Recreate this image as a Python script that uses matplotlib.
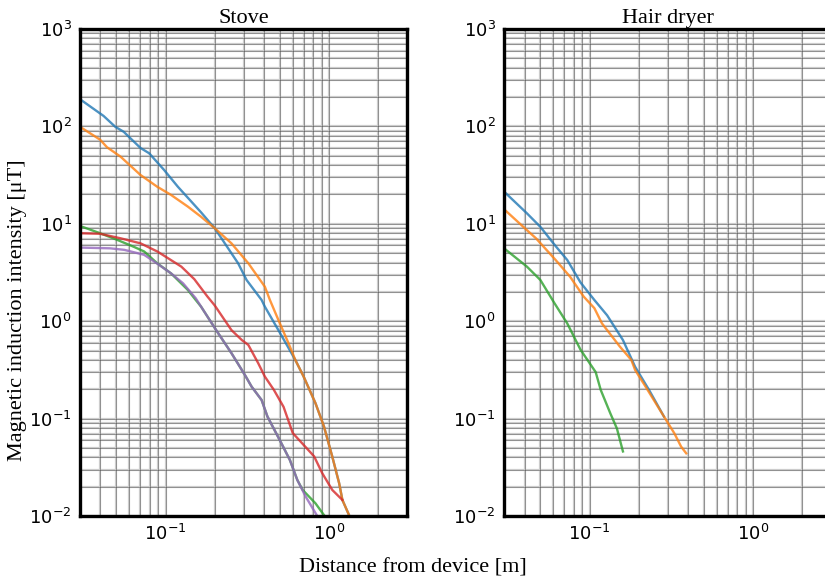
import numpy as np
import matplotlib
matplotlib.use('Agg')
import matplotlib.pyplot as plt
from matplotlib.ticker import LogLocator

# Stove curves (distance [m], field [uT])
stove_blue_x = [0.03, 0.0418, 0.0493, 0.0555, 0.0703, 0.0794, 0.098, 0.119, 0.165, 0.2, 0.278, 0.313,
                0.387, 0.405, 0.49, 0.622, 0.70, 0.826, 0.931, 1.047, 1.153, 1.207, 1.34]
stove_blue_y = [190, 128, 99, 88, 60, 53, 35.7, 24, 13.1, 9.0, 3.93, 2.65,
                1.65, 1.41, 0.81, 0.40, 0.269, 0.144, 0.083, 0.0406, 0.0217, 0.0146, 0.0098]

stove_orange_x = [0.03, 0.0398, 0.0439, 0.053, 0.0703, 0.089, 0.108, 0.137, 0.165, 0.2, 0.253, 0.321,
                  0.405, 0.435, 0.49, 0.566, 0.622, 0.70, 0.826, 0.931, 1.047, 1.153, 1.207, 1.34]
stove_orange_y = [99, 73, 61, 49, 31.7, 24, 19.8, 15, 11.8, 9.0, 6.3, 3.93,
                  2.26, 1.65, 1.03, 0.59, 0.40, 0.269, 0.144, 0.083, 0.0406, 0.0217, 0.0146, 0.0098]

stove_green_x = [0.03, 0.0398, 0.05, 0.064, 0.074, 0.089, 0.108, 0.137, 0.153, 0.165, 0.204, 0.253,
                 0.306, 0.336, 0.387, 0.42, 0.5, 0.576, 0.64, 0.69, 0.826, 0.94]
stove_green_y = [9.5, 8.0, 6.9, 5.8, 5.2, 3.93, 3.1, 2.09, 1.65, 1.41, 0.81, 0.47,
                 0.28, 0.213, 0.155, 0.105, 0.060, 0.0376, 0.0234, 0.0185, 0.0135, 0.0100]

stove_red_x = [0.03, 0.0398, 0.053, 0.0703, 0.089, 0.1, 0.125, 0.15, 0.18, 0.2, 0.253, 0.293, 0.321,
               0.369, 0.405, 0.46, 0.527, 0.60, 0.81, 0.91, 1.047, 1.207]
stove_red_y = [8.0, 7.9, 7.1, 6.3, 5.2, 4.6, 3.63, 2.7, 1.8, 1.45, 0.81, 0.64, 0.57,
               0.37, 0.27, 0.197, 0.132, 0.071, 0.041, 0.0274, 0.0185, 0.0146]

stove_purple_x = [0.03, 0.0459, 0.056, 0.074, 0.089, 0.108, 0.128, 0.153, 0.165, 0.204, 0.253,
                  0.306, 0.336, 0.387, 0.42, 0.5, 0.576, 0.64, 0.72, 0.847]
stove_purple_y = [5.7, 5.6, 5.4, 4.8, 3.9, 3.1, 2.45, 1.72, 1.41, 0.81, 0.47,
                  0.28, 0.213, 0.155, 0.105, 0.060, 0.0376, 0.0234, 0.0158, 0.0100]

# Hair dryer curves
dryer_blue_x = [0.03, 0.0414, 0.05, 0.062, 0.073, 0.088, 0.107, 0.128, 0.16, 0.19, 0.231, 0.285]
dryer_blue_y = [21.4, 12.8, 9.3, 5.9, 4.25, 2.5, 1.65, 1.15, 0.64, 0.34, 0.197, 0.105]

dryer_orange_x = [0.03, 0.0414, 0.047, 0.062, 0.076, 0.092, 0.107, 0.119, 0.153, 0.18, 0.19, 0.22,
                  0.285, 0.33, 0.363, 0.39]
dryer_orange_y = [14.1, 8.6, 7.1, 4.25, 2.86, 1.79, 1.36, 0.95, 0.55, 0.40, 0.315, 0.213,
                  0.105, 0.0706, 0.0515, 0.044]

dryer_green_x = [0.03, 0.0414, 0.05, 0.061, 0.073, 0.088, 0.109, 0.117, 0.134, 0.147, 0.16]
dryer_green_y = [5.6, 3.63, 2.65, 1.53, 0.95, 0.51, 0.30, 0.197, 0.113, 0.079, 0.046]

colors = ['tab:blue', 'tab:orange', 'tab:green', 'tab:red', 'tab:purple']
serif = ['Liberation Serif', 'DejaVu Serif']

fig = plt.figure(figsize=(8.25, 5.82), dpi=100)
ax1 = fig.add_axes([0.097, 0.1134, 0.3964, 0.8368])
ax2 = fig.add_axes([0.611, 0.1134, 0.3964, 0.8368])

stove = [(stove_blue_x, stove_blue_y), (stove_orange_x, stove_orange_y), (stove_green_x, stove_green_y),
         (stove_red_x, stove_red_y), (stove_purple_x, stove_purple_y)]
dryer = [(dryer_blue_x, dryer_blue_y), (dryer_orange_x, dryer_orange_y), (dryer_green_x, dryer_green_y)]

for ax, curves, title in [(ax1, stove, 'Stove'), (ax2, dryer, 'Hair dryer')]:
    ax.set_xscale('log')
    ax.set_yscale('log')
    ax.set_xlim(0.03, 3)
    ax.set_ylim(1e-2, 1e3)
    ax.xaxis.set_major_locator(LogLocator(base=10))
    ax.xaxis.set_minor_locator(LogLocator(base=10, subs=np.arange(2, 10)))
    ax.yaxis.set_minor_locator(LogLocator(base=10, subs=np.arange(2, 10), numticks=20))
    # light gray grid
    ax.grid(which='both', color='#cccccc', lw=1.6)
    ax.set_axisbelow(True)
    # thin dark grid on top of it
    xt = [t for t in np.concatenate([ax.xaxis.get_majorticklocs(), ax.xaxis.get_minorticklocs()])
          if 0.03 < t < 3]
    yt = [t for t in np.concatenate([ax.yaxis.get_majorticklocs(), ax.yaxis.get_minorticklocs()])
          if 1e-2 < t < 1e3]
    for t in xt:
        ax.axvline(t, color='#111111', lw=0.45, alpha=0.5, zorder=1)
    for t in yt:
        ax.axhline(t, color='#111111', lw=0.45, alpha=0.5, zorder=1)
    for (x, y), c in zip(curves, colors):
        ax.plot(x, y, color=c, lw=1.7, alpha=0.8, zorder=3)
    ax.tick_params(which='both', length=0, labelsize=13, pad=6)
    for s in ax.spines.values():
        s.set_linewidth(2.4)
        s.set_zorder(5)
    ax.set_title(title, fontsize=16, family=serif, pad=4)

fig.text(0.5, 0.024, 'Distance from device [m]', fontsize=16, family=serif, ha='center', va='center')
fig.text(0.021, 0.467, 'Magnetic induction intensity [\u03bcT]', fontsize=16, family=serif,
         ha='center', va='center', rotation=90)

plt.savefig('out.png', dpi=100)
plt.close()
